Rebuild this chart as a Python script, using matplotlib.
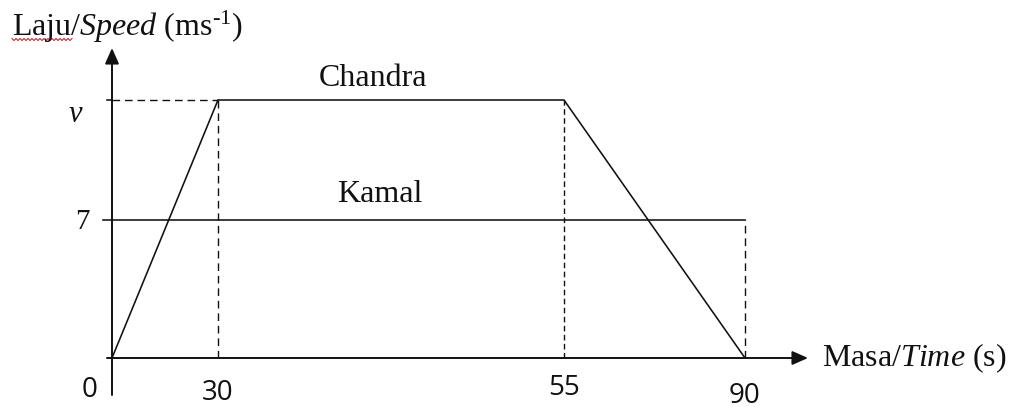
import numpy as np
import matplotlib
matplotlib.use('Agg')
import matplotlib.pyplot as plt

# ---- data ----
TIME_TICKS = [0, 30, 55, 90]
TIME_LABELS = ['0', '30', '55', '90']
V = 13.1                      # drawn height of the unknown speed v
CHANDRA_T = [0, 30, 55, 90]
CHANDRA_S = [0, V, V, 0]
KAMAL_T = [0, 90]
KAMAL_S = [7, 7]
SPEED_TICKS = [7, V]
SPEED_LABELS = ['7', 'v']

# schematic (not-to-scale) time axis: drawn offset of each tick in pixels
X_DRAWN = [0, 106, 452, 633]

plt.rcParams['mathtext.fontset'] = 'custom'
plt.rcParams['mathtext.rm'] = 'Liberation Serif'
plt.rcParams['mathtext.it'] = 'Liberation Serif:italic'
SERIF = 'Liberation Serif'
SANS = 'Open Sans'

W, H = 1009, 408
fig = plt.figure(figsize=(W / 100, H / 100), dpi=100)
ax = fig.add_axes([112 / W, 50 / H, 633 / W, 258 / H])

s0 = (X_DRAWN[1] - X_DRAWN[0]) / (TIME_TICKS[1] - TIME_TICKS[0])
s1 = (X_DRAWN[-1] - X_DRAWN[-2]) / (TIME_TICKS[-1] - TIME_TICKS[-2])
TB = np.array([-1000.0] + TIME_TICKS + [1000.0])
PB = np.array([X_DRAWN[0] - 1000 * s0] + X_DRAWN + [X_DRAWN[-1] + (1000 - TIME_TICKS[-1]) * s1])


def fwd(t):
    return np.interp(np.asarray(t, float), TB, PB)


def inv(p):
    return np.interp(np.asarray(p, float), PB, TB)


ax.set_xscale('function', functions=(fwd, inv))
ax.set_xlim(0, 90)
ax.set_ylim(0, V)
ax.axis('off')

k = '#111111'
# Chandra and Kamal
ax.plot(CHANDRA_T, CHANDRA_S, color=k, lw=1.15, clip_on=False, solid_joinstyle='miter')
ax.plot(KAMAL_T, KAMAL_S, color=k, lw=1.15, clip_on=False)

dash = (0, (5.5, 3.5))
ax.plot([0, 30], [V, V], color=k, lw=1.0, ls=dash, clip_on=False)
ax.plot([30, 30], [0, V], color=k, lw=1.0, ls=dash, clip_on=False)
ax.plot([55, 55], [0, V], color=k, lw=1.0, ls=(0, (4, 2.5)), clip_on=False)
ax.plot([90, 90], [0, 7], color=k, lw=1.0, ls=dash, clip_on=False)

# small tick marks left of the speed axis
yt = ax.get_yaxis_transform()
ax.plot([-9 / 633, 0], [SPEED_TICKS[0]] * 2, color=k, lw=1.15, transform=yt, clip_on=False)
ax.plot([-5 / 633, 0], [SPEED_TICKS[1]] * 2, color=k, lw=1.15, transform=yt, clip_on=False)

# axes with arrows
ap = dict(arrowstyle='-|>,head_length=0.95,head_width=0.42', mutation_scale=10,
          lw=1.4, color=k, shrinkA=0, shrinkB=0)
ax.annotate('', xy=(696 / 633, 0), xytext=(-5 / 633, 0), xycoords='axes fraction',
            textcoords='axes fraction', arrowprops=ap, annotation_clip=False)
ax.annotate('', xy=(0, 310 / 258), xytext=(0, -37 / 258), xycoords='axes fraction',
            textcoords='axes fraction', arrowprops=ap, annotation_clip=False)

PT = 72 / 100  # pixels -> points

# time tick labels (sans) below axis
offs = {0: (-22, -32), 30: (0, -35), 55: (0, -30), 90: (0, -38)}
for t, lab in zip(TIME_TICKS, TIME_LABELS):
    dx, dy = offs[t]
    ax.annotate(lab, xy=(t, 0), xytext=(dx * PT, dy * PT), textcoords='offset points',
                ha='center', va='center', fontsize=20, family=SANS, color=k,
                annotation_clip=False)

# speed labels
ax.annotate(SPEED_LABELS[0], xy=(0, SPEED_TICKS[0]), xytext=(-30 * PT, -2 * PT),
            textcoords='offset points', ha='center', va='center', fontsize=21,
            family=SERIF, color=k, annotation_clip=False)
ax.annotate(SPEED_LABELS[1], xy=(0, SPEED_TICKS[1]), xytext=(-37 * PT, -14 * PT),
            textcoords='offset points', ha='center', va='center', fontsize=22,
            family=SERIF, style='italic', color=k, annotation_clip=False)

# series names
ax.annotate('Chandra', xy=(41.2, V), xytext=(0, 14 * PT), textcoords='offset points',
            ha='center', va='baseline', fontsize=23, family=SERIF, color=k,
            annotation_clip=False)
ax.annotate('Kamal', xy=(41.7, 7), xytext=(0, 18 * PT), textcoords='offset points',
            ha='center', va='baseline', fontsize=23, family=SERIF, color=k,
            annotation_clip=False)

# axis titles
fig.text(12 / W, 1 - 36 / H, r'Laju/$\mathit{Speed}$ (ms$^{\text{-1}}$)',
         ha='left', va='baseline', fontsize=23, family=SERIF, color=k)
fig.text(822 / W, 1 - 358 / H, r'Masa/$\mathit{Time}$ (s)',
         ha='left', va='center', fontsize=23, family=SERIF, color=k)

# spell-check squiggle under "Laju"
sx = np.arange(12, 73, 2)
sy = np.where(np.arange(len(sx)) % 2 == 0, 38.5, 40.5)
fig.add_artist(plt.Line2D(sx / W, 1 - sy / H, color='#e02020', lw=0.8))

fig.savefig('out.png', dpi=100)
